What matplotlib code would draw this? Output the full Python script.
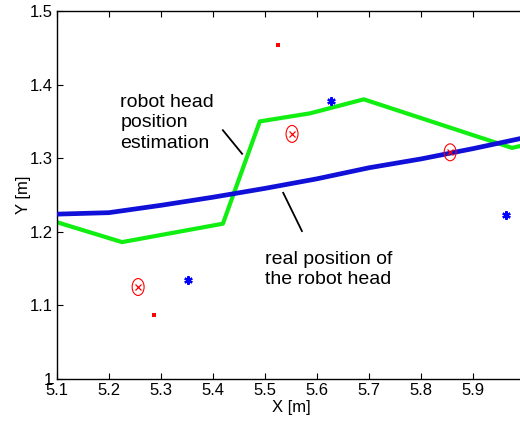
import matplotlib
matplotlib.use('Agg')
import matplotlib.pyplot as plt
from matplotlib.patches import Ellipse

plt.rcParams['font.family'] = ['Liberation Sans', 'DejaVu Sans']

# real position of the robot head
real_x = [5.1, 5.2, 5.3, 5.4, 5.5, 5.6, 5.7, 5.8, 5.9, 6.0]
real_y = [1.224, 1.226, 1.236, 1.247, 1.259, 1.272, 1.287, 1.299, 1.313, 1.328]

# estimated position of the robot head
est_x = [5.1, 5.225, 5.419, 5.49, 5.587, 5.69, 5.975, 6.0]
est_y = [1.213, 1.186, 1.211, 1.350, 1.361, 1.380, 1.314, 1.318]

# circled measurements
circ_x = [5.256, 5.552, 5.856]
circ_y = [1.125, 1.333, 1.308]
circ_d = 0.023

# blue star detections
star_x = [5.352, 5.627, 5.963]
star_y = [1.135, 1.378, 1.223]

# small red points
dot_x = [5.287, 5.525]
dot_y = [1.087, 1.454]

fig = plt.figure(figsize=(5.2, 4.21), dpi=100)
ax = fig.add_axes([57/520, 1 - 379/421, 468/520, 368/421])

ax.plot(est_x, est_y, color='#11ee11', lw=3.0, solid_capstyle='butt', zorder=2)
ax.plot(real_x, real_y, color='#1010d8', lw=3.4, solid_capstyle='butt', zorder=3)

for cx, cy in zip(circ_x, circ_y):
    ax.add_patch(Ellipse((cx, cy), circ_d, circ_d, fill=False, ec='red', lw=0.8, zorder=4))
ax.plot(circ_x, circ_y, 'x', color='red', ms=4, mew=0.9, zorder=5)
ax.plot(star_x, star_y, marker=(6, 2, 0), ls='none', color='blue', ms=6, mew=1.6, zorder=5)
ax.plot(dot_x, dot_y, 's', color='red', ms=2.5, mew=0, zorder=5)

# annotation pointers
ax.plot([5.419, 5.456], [1.338, 1.306], color='black', lw=1.3)
ax.plot([5.535, 5.571], [1.253, 1.201], color='black', lw=1.3)

ax.text(5.222, 1.387, 'robot head\nposition\nestimation', fontsize=14,
        va='top', ha='left', linespacing=1.25)
ax.text(5.5, 1.174, 'real position of\nthe robot head', fontsize=14,
        va='top', ha='left', linespacing=1.25)

ax.set_xlim(5.1, 6.0)
ax.set_ylim(1.0, 1.5)
ax.set_xticks([5.1, 5.2, 5.3, 5.4, 5.5, 5.6, 5.7, 5.8, 5.9])
ax.set_xticklabels(['5.1', '5.2', '5.3', '5.4', '5.5', '5.6', '5.7', '5.8', '5.9'])
ax.set_yticks([1.0, 1.1, 1.2, 1.3, 1.4, 1.5])
ax.set_yticklabels(['1', '1.1', '1.2', '1.3', '1.4', '1.5'])
ax.tick_params(direction='in', top=True, right=False, labelsize=12, length=4, pad=3)
for s in ax.spines.values():
    s.set_linewidth(1.0)

ax.set_xlabel('X [m]', fontsize=12, labelpad=1)
ax.set_ylabel('Y [m]', fontsize=12, labelpad=-1)

fig.savefig('out.png', dpi=100)
